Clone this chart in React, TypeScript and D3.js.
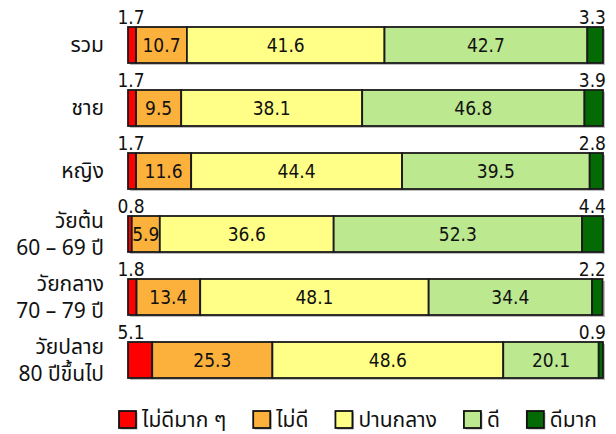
import React, { useEffect, useRef } from "react";
import * as d3 from "d3";

const categories = ["รวม", "ชาย", "หญิง", "วัยต้น\n60 – 69 ปี", "วัยกลาง\n70 – 79 ปี", "วัยปลาย\n80 ปีขึ้นไป"];
const seriesNames = ["ไม่ดีมาก ๆ", "ไม่ดี", "ปานกลาง", "ดี", "ดีมาก"];
const seriesColors = ["#FF0000", "#FBB13C", "#FFFF88", "#BCE890", "#046A04"];
const veryBad = [1.7, 1.7, 1.7, 0.8, 1.8, 5.1];
const bad = [10.7, 9.5, 11.6, 5.9, 13.4, 25.3];
const medium = [41.6, 38.1, 44.4, 36.6, 48.1, 48.6];
const good = [42.7, 46.8, 39.5, 52.3, 34.4, 20.1];
const veryGood = [3.3, 3.9, 2.8, 4.4, 2.2, 0.9];
const series = [veryBad, bad, medium, good, veryGood];
const xDomain = [0, 100];

const W = 616;
const H = 434;
const NUM_FONT = "'DejaVu Sans Condensed', 'DejaVu Sans', Tahoma, sans-serif";
const THAI_FONT = "Tahoma, 'Noto Sans Thai', 'Noto Sans', 'DejaVu Sans', sans-serif";

export default function App() {
  const ref = useRef<SVGSVGElement | null>(null);

  useEffect(() => {
    const svg = d3.select(ref.current);
    svg.selectAll("*").remove();

    const x = d3.scaleLinear().domain(xDomain).range([128, 603]);
    const y = d3.scaleBand<string>().domain(categories).range([13.5, 391.5]).paddingInner(27 / 63).paddingOuter(27 / 126);
    const bw = y.bandwidth();

    const rows = categories.map((c, i) => {
      let acc = 0;
      return series.map((s, k) => {
        const v = s[i];
        const seg = { cat: c, k, v, x0: acc, x1: acc + v };
        acc += v;
        return seg;
      });
    });

    // shadows
    svg.append("g").selectAll("rect").data(categories).join("rect")
      .attr("x", x(0) + 2).attr("y", (d) => (y(d) as number) + 2)
      .attr("width", x(100) - x(0)).attr("height", bw)
      .attr("fill", "#bdbdbd");

    const g = svg.append("g");
    rows.forEach((segs) => {
      g.append("g").selectAll("rect").data(segs).join("rect")
        .attr("x", (d) => x(d.x0)).attr("y", (d) => y(d.cat) as number)
        .attr("width", (d) => x(d.x1) - x(d.x0)).attr("height", bw)
        .attr("fill", (d) => seriesColors[d.k])
        .attr("stroke", "#1a1a1a").attr("stroke-width", 1.8);
    });

    // value labels
    rows.forEach((segs) => {
      segs.forEach((d) => {
        const top = y(d.cat) as number;
        const t = g.append("text").text(d.v.toFixed(1))
          .attr("font-family", NUM_FONT).attr("font-size", 19).attr("fill", "#111");
        if (d.k === 0) {
          t.attr("x", x(d.x0) + 3).attr("y", top - 3).attr("text-anchor", "middle");
        } else if (d.k === 4) {
          t.attr("x", x(100) + 3).attr("y", top - 3).attr("text-anchor", "end");
        } else {
          t.attr("x", (x(d.x0) + x(d.x1)) / 2).attr("y", top + bw / 2).attr("dy", "0.36em").attr("text-anchor", "middle");
        }
      });
    });

    // category labels
    categories.forEach((c) => {
      const lines = c.split("\n");
      const cy = (y(c) as number) + bw / 2;
      const t = svg.append("text").attr("font-family", THAI_FONT).attr("font-size", 21)
        .attr("fill", "#111").attr("text-anchor", "end");
      lines.forEach((ln, j) => {
        const off = lines.length === 1 ? 0 : (j === 0 ? -13 : 14);
        t.append("tspan").attr("x", 104).attr("y", cy + off).attr("dy", "0.35em").text(ln);
      });
    });

    // legend
    const lg = svg.append("g");
    let lx = 119;
    const ly = 411;
    seriesNames.forEach((name, k) => {
      lg.append("rect").attr("x", lx + 1.5).attr("y", ly + 1.5).attr("width", 17).attr("height", 17).attr("fill", "#aaa");
      lg.append("rect").attr("x", lx).attr("y", ly).attr("width", 17).attr("height", 17)
        .attr("fill", seriesColors[k]).attr("stroke", "#111").attr("stroke-width", 1.8);
      const t = lg.append("text").attr("x", lx + 23).attr("y", ly + 8.5).attr("dy", "0.36em")
        .attr("font-family", THAI_FONT).attr("font-size", 21).attr("fill", "#111").text(name);
      const w = (t.node() as SVGTextElement).getComputedTextLength();
      lx = lx + 23 + w + 27;
    });
  }, []);

  return (
    <svg ref={ref} width={W} height={H} style={{ position: "absolute", left: 0, top: 0, background: "#fff" }} />
  );
}
